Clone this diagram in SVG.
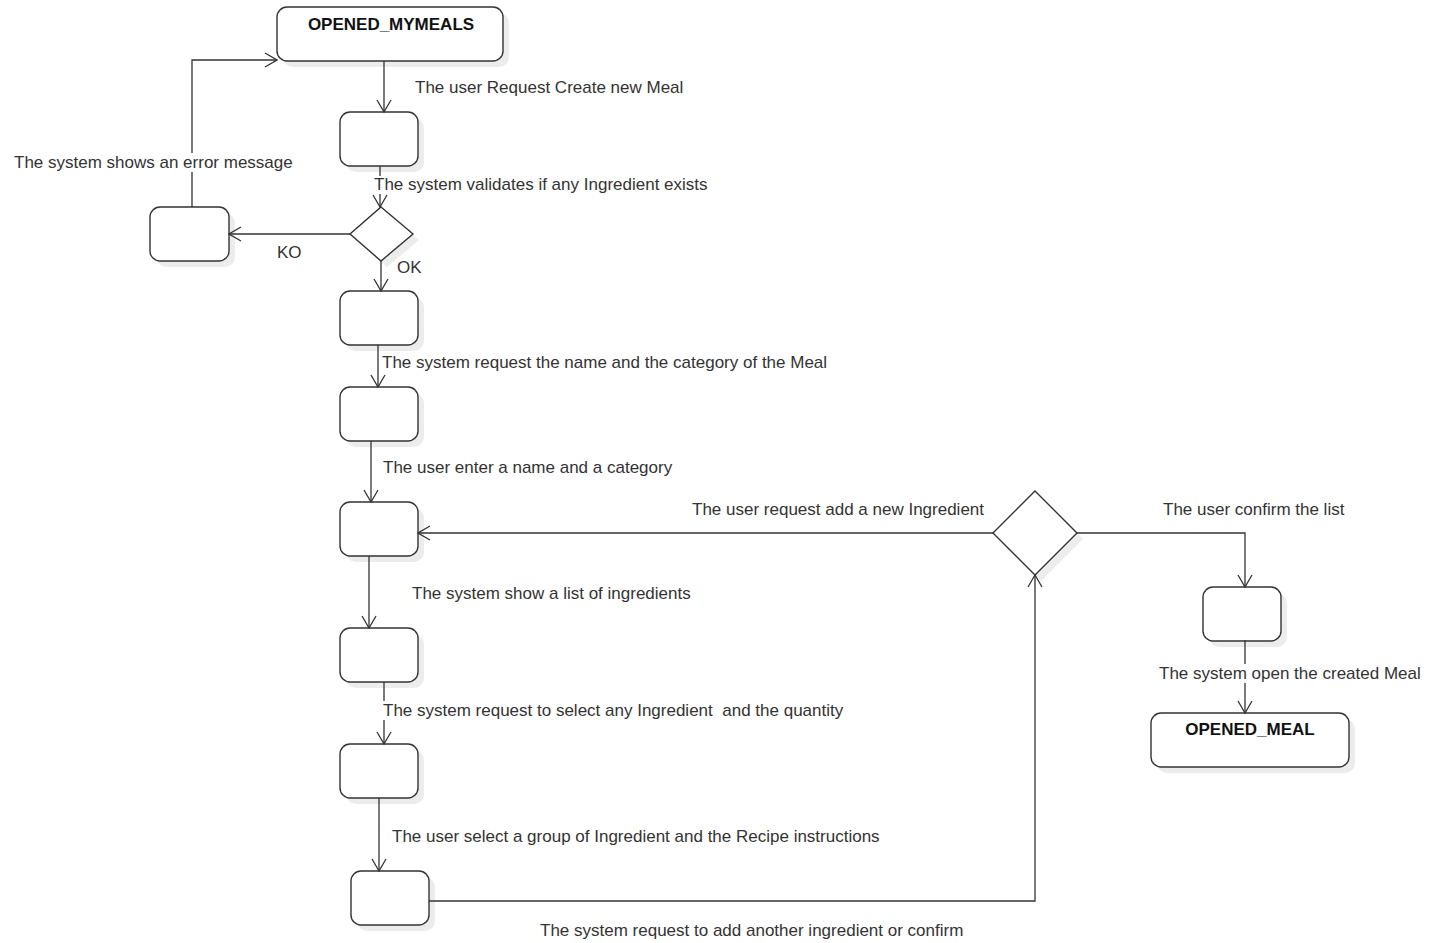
<svg xmlns="http://www.w3.org/2000/svg" width="1429" height="943" viewBox="0 0 1429 943">
  <defs>
    <marker id="arrow" viewBox="0 0 14 16" refX="13" refY="8" markerWidth="14" markerHeight="16" markerUnits="userSpaceOnUse" orient="auto">
      <path d="M1,1 L13,8 L1,15" fill="none" stroke="#333" stroke-width="1.3"/>
    </marker>
  </defs>
  <style>
    .shadow { fill: #ececec; stroke: none; }
    .state { fill: #fff; stroke: #333; stroke-width: 1.4; }
    .edge { fill: none; stroke: #333; stroke-width: 1.3; marker-end: url(#arrow); }
    .title { font-family: "Liberation Sans", Arial, sans-serif; font-size: 17px; font-weight: bold; fill: #111; text-anchor: middle; }
    .label { font-family: "Liberation Sans", Arial, sans-serif; font-size: 17px; fill: #333; }
    .label-bg { fill: #fff; }
  </style>
  <rect width="1429" height="943" fill="#fff"/>

  <!-- states -->
  <g id="opened-mymeals">
    <rect class="shadow" x="283" y="13" width="226" height="54" rx="10"/>
    <rect class="state" x="277" y="7" width="226" height="54" rx="10"/>
    <text class="title" x="391" y="30">OPENED_MYMEALS</text>
  </g>
  <g id="s1">
    <rect class="shadow" x="346" y="118" width="78" height="54" rx="10"/>
    <rect class="state" x="340" y="112" width="78" height="54" rx="10"/>
  </g>
  <g id="s-error">
    <rect class="shadow" x="156" y="213" width="79" height="54" rx="10"/>
    <rect class="state" x="150" y="207" width="79" height="54" rx="10"/>
  </g>
  <g id="d1">
    <polygon class="shadow" points="387,213 419,240 387,267 356,240"/>
    <polygon class="state" points="381,207 413,234 381,261 350,234"/>
  </g>
  <g id="s2">
    <rect class="shadow" x="346" y="297" width="78" height="54" rx="10"/>
    <rect class="state" x="340" y="291" width="78" height="54" rx="10"/>
  </g>
  <g id="s3">
    <rect class="shadow" x="346" y="393" width="78" height="54" rx="10"/>
    <rect class="state" x="340" y="387" width="78" height="54" rx="10"/>
  </g>
  <g id="s4">
    <rect class="shadow" x="346" y="508" width="78" height="54" rx="10"/>
    <rect class="state" x="340" y="502" width="78" height="54" rx="10"/>
  </g>
  <g id="s5">
    <rect class="shadow" x="346" y="634" width="78" height="54" rx="10"/>
    <rect class="state" x="340" y="628" width="78" height="54" rx="10"/>
  </g>
  <g id="s6">
    <rect class="shadow" x="346" y="750" width="78" height="54" rx="10"/>
    <rect class="state" x="340" y="744" width="78" height="54" rx="10"/>
  </g>
  <g id="s7">
    <rect class="shadow" x="357" y="877" width="78" height="54" rx="10"/>
    <rect class="state" x="351" y="871" width="78" height="54" rx="10"/>
  </g>
  <g id="d2">
    <polygon class="shadow" points="1041,497 1083,539 1041,581 999,539"/>
    <polygon class="state" points="1035,491 1077,533 1035,575 993,533"/>
  </g>
  <g id="s8">
    <rect class="shadow" x="1209" y="593" width="78" height="54" rx="10"/>
    <rect class="state" x="1203" y="587" width="78" height="54" rx="10"/>
  </g>
  <g id="opened-meal">
    <rect class="shadow" x="1157" y="719" width="198" height="54" rx="10"/>
    <rect class="state" x="1151" y="713" width="198" height="54" rx="10"/>
    <text class="title" x="1250" y="735">OPENED_MEAL</text>
  </g>

  <!-- transitions -->
  <g id="connectors">
    <path class="edge" d="M384,61 L384,112"/>
    <path class="edge" d="M380,166 L380,207"/>
    <path class="edge" d="M350,234 L229,234"/>
    <path class="edge" d="M192,207 L192,60 L277,60"/>
    <path class="edge" d="M381,261 L381,291"/>
    <path class="edge" d="M378,345 L378,387"/>
    <path class="edge" d="M371,441 L371,502"/>
    <path class="edge" d="M369,556 L369,628"/>
    <path class="edge" d="M384,682 L384,744"/>
    <path class="edge" d="M379,798 L379,871"/>
    <path class="edge" d="M429,901 L1035,901 L1035,575"/>
    <path class="edge" d="M993,533 L418,533"/>
    <path class="edge" d="M1077,533 L1245,533 L1245,587"/>
    <path class="edge" d="M1245,640 L1245,713"/>
  </g>

  <!-- transition labels (white plates where a label sits on a line) -->
  <g id="labels">
    <rect class="label-bg" x="13" y="153" width="282" height="19"/>
    <rect class="label-bg" x="373" y="176" width="338" height="18"/>
    <rect class="label-bg" x="382" y="701" width="466" height="19"/>
    <rect class="label-bg" x="1158" y="664" width="266" height="19"/>
    <text class="label" x="415" y="93">The user Request Create new Meal</text>
    <text class="label" x="14" y="168">The system shows an error message</text>
    <text class="label" x="374" y="190">The system validates if any Ingredient exists</text>
    <text class="label" x="277" y="258">KO</text>
    <text class="label" x="397" y="273">OK</text>
    <text class="label" x="382" y="368">The system request the name and the category of the Meal</text>
    <text class="label" x="383" y="473">The user enter a name and a category</text>
    <text class="label" x="692" y="515">The user request add a new Ingredient</text>
    <text class="label" x="1163" y="515">The user confirm the list</text>
    <text class="label" x="412" y="599">The system show a list of ingredients</text>
    <text class="label" x="1159" y="679">The system open the created Meal</text>
    <text class="label" x="383" y="716" xml:space="preserve">The system request to select any Ingredient  and the quantity</text>
    <text class="label" x="392" y="842">The user select a group of Ingredient and the Recipe instructions</text>
    <text class="label" x="540" y="936">The system request to add another ingredient or confirm</text>
  </g>
</svg>
